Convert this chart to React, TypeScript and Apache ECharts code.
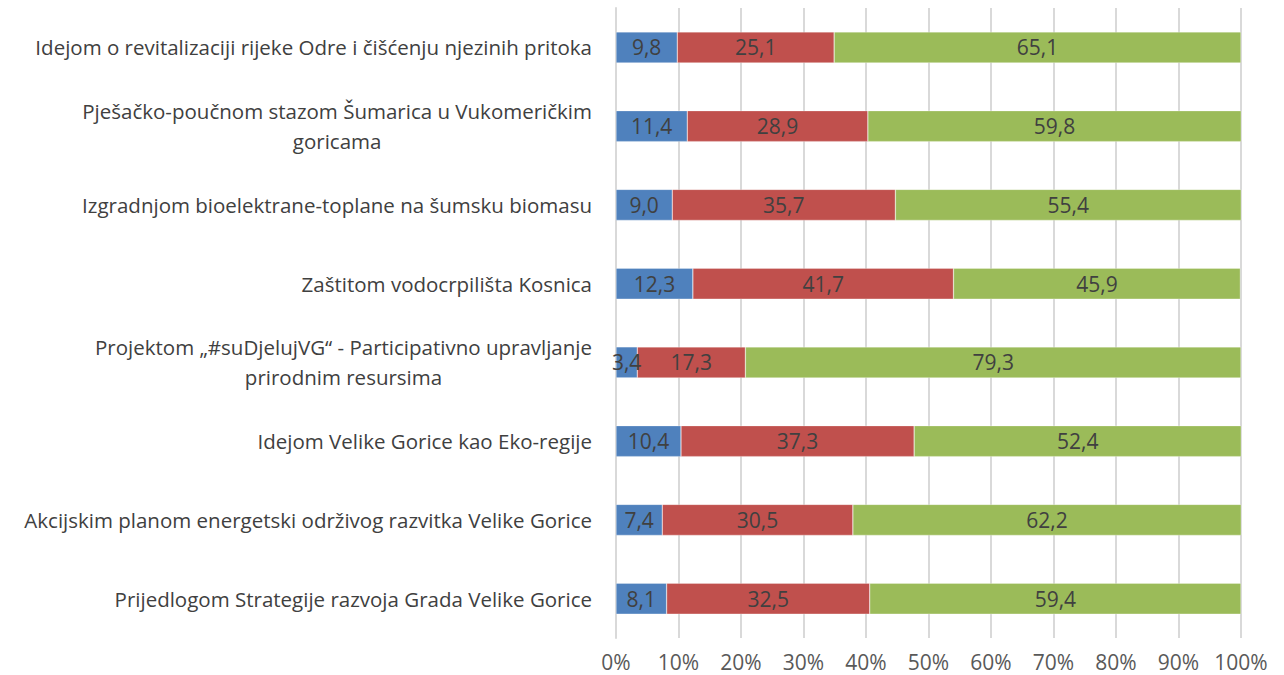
import React, { useEffect, useRef } from "react";
import * as echarts from "echarts";

const categories = [
  "Idejom o revitalizaciji rijeke Odre i čišćenju njezinih pritoka",
  "Pješačko-poučnom stazom Šumarica u Vukomeričkim\ngoricama",
  "Izgradnjom bioelektrane-toplane na šumsku biomasu",
  "Zaštitom vodocrpilišta Kosnica",
  "Projektom „#suDjelujVG“ - Participativno upravljanje\nprirodnim resursima",
  "Idejom Velike Gorice kao Eko-regije",
  "Akcijskim planom energetski održivog razvitka Velike Gorice",
  "Prijedlogom Strategije razvoja Grada Velike Gorice",
];
const seriesBlue = [9.8, 11.4, 9.0, 12.3, 3.4, 10.4, 7.4, 8.1];
const seriesRed = [25.1, 28.9, 35.7, 41.7, 17.3, 37.3, 30.5, 32.5];
const seriesGreen = [65.1, 59.8, 55.4, 45.9, 79.3, 52.4, 62.2, 59.4];
const colors = ["#4f81bd", "#c0504d", "#9bbb59"];

const FONT = "Open Sans";

export default function App() {
  const ref = useRef<HTMLDivElement>(null);
  useEffect(() => {
    const chart = echarts.init(ref.current!, null, { renderer: "svg" });
    const mk = (name: string, data: number[], color: string) => ({
      name,
      type: "bar",
      stack: "total",
      data,
      barWidth: 31,
      itemStyle: { color, borderColor: "rgba(255,255,255,0.6)", borderWidth: 0.5 },
      label: {
        show: true,
        position: "inside",
        color: "#404040",
        fontFamily: FONT,
        fontSize: 21,
        formatter: (p: any) => p.value.toFixed(1).replace(".", ","),
      },
    });
    chart.setOption({
      animation: false,
      grid: { left: 616, right: 43, top: 8, bottom: 37, containLabel: false },
      xAxis: {
        type: "value",
        min: 0,
        max: 100,
        interval: 10,
        axisLine: { show: false },
        axisTick: { show: false },
        splitLine: { show: true, lineStyle: { color: "#d9d9d9", width: 2 } },
        axisLabel: {
          formatter: "{value}%",
          color: "#595959",
          fontFamily: FONT,
          fontSize: 21,
          margin: 13,
        },
      },
      yAxis: {
        type: "category",
        inverse: true,
        data: categories,
        axisLine: { show: true, lineStyle: { color: "#d9d9d9", width: 2 } },
        axisTick: { show: false },
        axisLabel: {
          color: "#404040",
          fontFamily: FONT,
          fontSize: 20.5,
          margin: 24,
          lineHeight: 30,
          formatter: (v: string) =>
            v
              .split("\n")
              .map((l) => `{c|${l}}`)
              .join("\n"),
          rich: {
            c: {
              align: "center",
              color: "#404040",
              fontFamily: FONT,
              fontSize: 20.5,
              lineHeight: 30,
            },
          },
        },
      },
      series: [
        mk("A", seriesBlue, colors[0]),
        mk("B", seriesRed, colors[1]),
        mk("C", seriesGreen, colors[2]),
      ],
    });
    return () => chart.dispose();
  }, []);
  return (
    <div
      ref={ref}
      style={{ position: "fixed", left: 0, top: 0, width: 1284, height: 675, background: "#fff" }}
    />
  );
}
